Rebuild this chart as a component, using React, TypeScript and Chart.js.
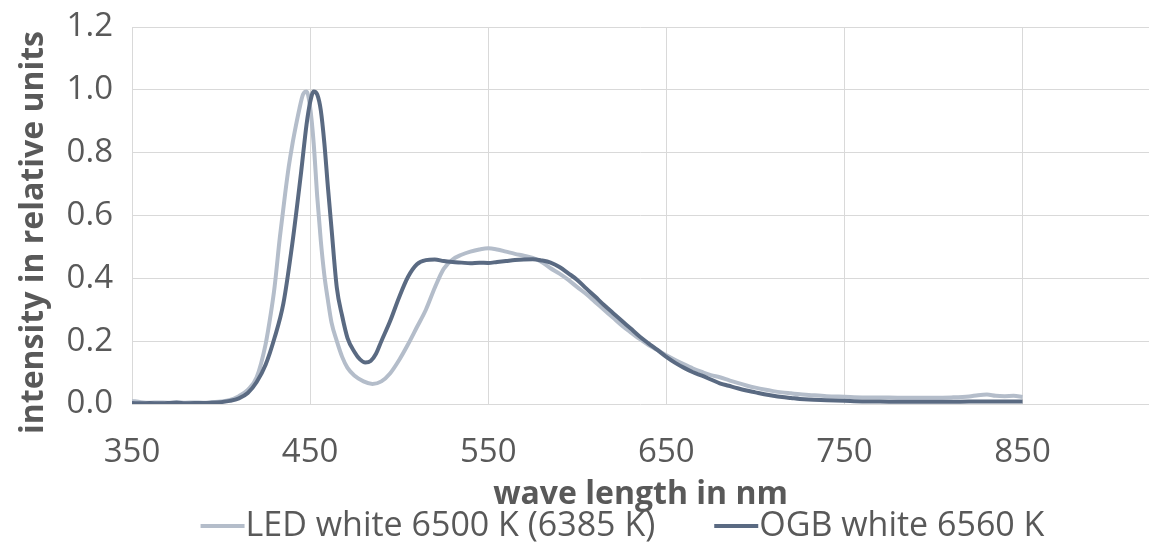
import React, { useEffect, useRef } from "react";
import { Chart, registerables } from "chart.js";

Chart.register(...registerables);

const FONT = "'Open Sans', 'Noto Sans', 'DejaVu Sans', sans-serif";
const TEXT_COLOR = "#595959";
const GRID_COLOR = "#D9D9D9";

const xTickValues = [350, 450, 550, 650, 750, 850];
const xMin = 350;
const xMax = 921;
const yMin = 0;
const yMax = 1.2;
const yStep = 0.2;

const xTitle = "wave length in nm";
const yTitle = "intensity in relative units";
const seriesLabels = ["LED white 6500 K (6385 K)", "OGB white 6560 K"];
const seriesColors = ["#B4BDCA", "#5A6A82"];

const ledWavelengths = [
  350, 355, 360, 365, 370, 375, 380, 385, 390, 395, 400, 405, 410, 415, 420, 425,
  428, 430, 433, 436, 438, 440, 442, 444, 446, 448, 450, 452, 454, 456, 458, 460,
  462, 465, 468, 471, 475, 480, 485, 490, 495, 500, 505, 510, 515, 520, 525, 530,
  535, 540, 545, 550, 555, 560, 565, 570, 575, 580, 585, 590, 595, 600, 605, 610,
  615, 620, 625, 630, 635, 640, 645, 650, 655, 660, 665, 670, 675, 680, 685, 690,
  695, 700, 705, 710, 715, 720, 725, 730, 740, 750, 760, 770, 780, 790, 800, 810,
  820, 825, 830, 835, 840, 845, 850,
];
const ledIntensity = [
  0.010, 0.006, 0.004, 0.005, 0.004, 0.006, 0.004, 0.005, 0.004, 0.006, 0.008, 0.013, 0.025, 0.045, 0.085, 0.190,
  0.290, 0.370, 0.530, 0.670, 0.755, 0.825, 0.885, 0.940, 0.985, 0.995, 0.945, 0.830, 0.660, 0.520, 0.410, 0.330,
  0.260, 0.200, 0.150, 0.115, 0.090, 0.072, 0.064, 0.072, 0.098, 0.140, 0.190, 0.245, 0.300, 0.370, 0.430, 0.460,
  0.475, 0.485, 0.492, 0.496, 0.492, 0.485, 0.478, 0.472, 0.465, 0.452, 0.432, 0.415, 0.395, 0.372, 0.350, 0.325,
  0.300, 0.275, 0.250, 0.228, 0.207, 0.188, 0.172, 0.155, 0.140, 0.126, 0.113, 0.102, 0.092, 0.085, 0.076, 0.067,
  0.059, 0.052, 0.046, 0.041, 0.037, 0.034, 0.031, 0.029, 0.025, 0.023, 0.021, 0.021, 0.020, 0.020, 0.020, 0.021,
  0.024, 0.028, 0.030, 0.026, 0.025, 0.026, 0.022,
];

const ogbWavelengths = [
  350, 355, 360, 365, 370, 375, 380, 385, 390, 395, 400, 405, 410, 415, 420, 425,
  430, 435, 440, 445, 448, 450, 452, 454, 456, 458, 460, 462, 465, 468, 471, 475,
  478, 481, 484, 487, 490, 495, 500, 505, 510, 515, 520, 525, 530, 535, 540, 545,
  550, 555, 560, 565, 570, 575, 580, 585, 590, 595, 600, 605, 610, 615, 620, 625,
  630, 635, 640, 645, 650, 655, 660, 665, 670, 675, 680, 685, 690, 695, 700, 705,
  710, 715, 720, 725, 730, 740, 750, 760, 770, 780, 790, 800, 810, 820, 830, 840,
  850,
];
const ogbIntensity = [
  0.003, 0.002, 0.003, 0.002, 0.003, 0.004, 0.002, 0.003, 0.003, 0.004, 0.006, 0.010, 0.018, 0.035, 0.070, 0.125,
  0.210, 0.320, 0.510, 0.740, 0.890, 0.960, 0.995, 0.985, 0.935, 0.830, 0.690, 0.560, 0.370, 0.280, 0.210, 0.165,
  0.142, 0.132, 0.137, 0.160, 0.200, 0.265, 0.340, 0.405, 0.445, 0.458, 0.460, 0.455, 0.452, 0.450, 0.448, 0.450,
  0.449, 0.452, 0.455, 0.458, 0.460, 0.461, 0.457, 0.450, 0.436, 0.416, 0.395, 0.368, 0.342, 0.315, 0.290, 0.265,
  0.240, 0.215, 0.193, 0.172, 0.150, 0.131, 0.115, 0.101, 0.090, 0.078, 0.066, 0.058, 0.050, 0.043, 0.037, 0.031,
  0.026, 0.022, 0.019, 0.016, 0.014, 0.012, 0.010, 0.008, 0.008, 0.007, 0.007, 0.007, 0.007, 0.008, 0.008, 0.008,
  0.008,
];

const yTitlePlugin = {
  id: "yTitleOffset",
  afterDraw(chart: any) {
    const ctx = chart.ctx;
    const area = chart.chartArea;
    ctx.save();
    ctx.translate(34, (area.top + area.bottom) / 2 + 17);
    ctx.rotate(-Math.PI / 2);
    ctx.font = `bold 32px ${FONT}`;
    ctx.fillStyle = TEXT_COLOR;
    ctx.textAlign = "center";
    ctx.textBaseline = "middle";
    ctx.fillText(yTitle, 0, 0);
    ctx.restore();
  },
};

const lineLegendPlugin = {
  id: "lineLegend",
  afterDraw(chart: any) {
    const ctx = chart.ctx;
    ctx.save();
    ctx.font = `34px ${FONT}`;
    const lineLen = 44;
    const gap = 60;
    const yc = 526;
    const items = chart.data.datasets.map((ds: any) => ({
      label: ds.label,
      color: ds.borderColor,
      w: lineLen + ctx.measureText(ds.label).width,
    }));
    const total = items.reduce((s: number, it: any) => s + it.w, 0) + gap * (items.length - 1);
    let x = 622 - total / 2;
    for (const it of items) {
      ctx.strokeStyle = it.color;
      ctx.lineWidth = 4;
      ctx.beginPath();
      ctx.moveTo(x, yc);
      ctx.lineTo(x + lineLen, yc);
      ctx.stroke();
      ctx.fillStyle = TEXT_COLOR;
      ctx.textAlign = "left";
      ctx.textBaseline = "middle";
      ctx.fillText(it.label, x + lineLen + 1, yc);
      x += it.w + gap;
    }
    ctx.restore();
  },
};

export default function App() {
  const canvasRef = useRef<HTMLCanvasElement | null>(null);

  useEffect(() => {
    document.body.style.margin = "0";
    const canvas = canvasRef.current;
    if (!canvas) return;
    const ledData = ledWavelengths.map((x, i) => ({ x, y: ledIntensity[i] }));
    const ogbData = ogbWavelengths.map((x, i) => ({ x, y: ogbIntensity[i] }));

    const chart = new Chart(canvas, {
      type: "line",
      data: {
        datasets: [
          {
            label: seriesLabels[0],
            data: ledData,
            borderColor: seriesColors[0],
            backgroundColor: seriesColors[0],
            borderWidth: 4,
            pointRadius: 0,
            cubicInterpolationMode: "monotone",
            order: 1,
          },
          {
            label: seriesLabels[1],
            data: ogbData,
            borderColor: seriesColors[1],
            backgroundColor: seriesColors[1],
            borderWidth: 4,
            pointRadius: 0,
            cubicInterpolationMode: "monotone",
            order: 0,
          },
        ],
      },
      options: {
        animation: false,
        responsive: false,
        devicePixelRatio: 1,
        layout: { padding: { top: 27, right: 12, bottom: 33, left: 0 } },
        plugins: {
          legend: { display: false },
          tooltip: { enabled: false },
        },
        scales: {
          x: {
            type: "linear",
            min: xMin,
            max: xMax,
            afterBuildTicks: (axis: any) => {
              axis.ticks = xTickValues.map((v) => ({ value: v }));
            },
            afterFit: (axis: any) => {
              axis.height = 107;
              axis.paddingLeft = 0;
              axis.paddingRight = 0;
            },
            grid: { color: GRID_COLOR, lineWidth: 1, drawTicks: false },
            border: { display: false },
            ticks: {
              font: { family: FONT, size: 33 },
              color: TEXT_COLOR,
              padding: 29,
              maxRotation: 0,
              autoSkip: false,
            },
            title: {
              display: true,
              text: xTitle,
              color: TEXT_COLOR,
              font: { family: FONT, size: 32, weight: "bold", lineHeight: 1 },
              padding: { top: 0, bottom: 0 },
            },
          },
          y: {
            type: "linear",
            min: yMin,
            max: yMax,
            afterFit: (axis: any) => {
              axis.width = 132;
              axis.paddingTop = 0;
              axis.paddingBottom = 0;
            },
            grid: { color: GRID_COLOR, lineWidth: 1, drawTicks: false },
            border: { display: false },
            ticks: {
              stepSize: yStep,
              font: { family: FONT, size: 33 },
              color: TEXT_COLOR,
              padding: 19,
              callback: (v: any) => Number(v).toFixed(1),
            },
          },
        },
      },
      plugins: [yTitlePlugin, lineLegendPlugin],
    });

    return () => chart.destroy();
  }, []);

  return (
    <canvas
      ref={canvasRef}
      width={1161}
      height={544}
      style={{ display: "block", width: 1161, height: 544 }}
    />
  );
}
